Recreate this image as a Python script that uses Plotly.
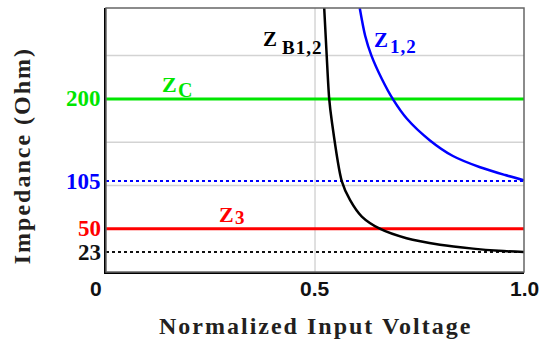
import plotly.graph_objects as go

# Data
zb_x = [0.522, 0.528, 0.534, 0.540, 0.564, 0.584, 0.612, 0.655, 0.719, 0.799, 0.878, 0.94, 1.0]
zb_y = [305, 250, 200, 175, 105, 83, 64, 50, 39, 31.5, 27, 24.5, 23]
z12_x = [0.607, 0.62, 0.635, 0.66, 0.686, 0.72, 0.775, 0.83, 0.895, 0.955, 1.0]
z12_y = [305, 273, 250, 223, 200, 177, 152, 134, 121, 112, 106]
zc_value = 200
z3_value = 50
z12_min = 105
zb_min = 23
ytick_vals = [23, 50, 105, 200]
ytick_text = ["23", "50", "105", "200"]
ytick_colors = ["#111111", "#ff0000", "#0000ff", "#00e600"]
grid_vals = [100, 150, 250]
xtick_vals = [0.5, 1.0]
xtick_text = ["0.5", "1.0"]

SERIF = "Liberation Serif"
SANS = "Liberation Sans"
GREEN = "#00e600"
BLUE = "#0000ff"
RED = "#ff0000"

fig = go.Figure()

fig.add_trace(go.Scatter(x=[0, 1], y=[zb_min, zb_min], mode="lines",
                         line=dict(color="#111111", width=2, dash="dot"), hoverinfo="skip"))
fig.add_trace(go.Scatter(x=[0, 1], y=[z12_min, z12_min], mode="lines",
                         line=dict(color=BLUE, width=2, dash="dot"), hoverinfo="skip"))
fig.add_trace(go.Scatter(x=[0, 1], y=[z3_value, z3_value], mode="lines",
                         line=dict(color=RED, width=3), hoverinfo="skip"))
fig.add_trace(go.Scatter(x=[0, 1], y=[zc_value, zc_value], mode="lines",
                         line=dict(color=GREEN, width=3), hoverinfo="skip"))
fig.add_trace(go.Scatter(x=z12_x, y=z12_y, mode="lines", line_shape="spline",
                         line=dict(color=BLUE, width=2.5, smoothing=0.8), hoverinfo="skip"))
fig.add_trace(go.Scatter(x=zb_x, y=zb_y, mode="lines", line_shape="spline",
                         line=dict(color="#000000", width=2.5, smoothing=0.8), hoverinfo="skip"))

shapes = []
for g in grid_vals:
    shapes.append(dict(type="line", xref="x", yref="y", x0=0, x1=1, y0=g, y1=g,
                       line=dict(color="#d3d3d3", width=1.5), layer="below"))
shapes.append(dict(type="line", xref="x", yref="paper", x0=0.5, x1=0.5, y0=0, y1=1,
                   line=dict(color="#c0c0c0", width=1), layer="below"))
shapes.append(dict(type="rect", xref="paper", yref="paper", x0=0, x1=1, y0=0, y1=1,
                   line=dict(color="#666666", width=1.5)))

annotations = []
for v, t, c in zip(ytick_vals, ytick_text, ytick_colors):
    annotations.append(dict(x=0, xref="paper", y=v, yref="y", text="<b>" + t + "</b>",
                            showarrow=False, xanchor="right", xshift=-3, yanchor="middle",
                            font=dict(family=SERIF, size=23, color=c)))
annotations.append(dict(x=0, xref="paper", y=0, yref="paper", text="<b>0</b>", showarrow=False,
                        xanchor="center", xshift=-10, yanchor="top", yshift=-3,
                        font=dict(family=SANS, size=21, color="#111111")))
for v, t in zip(xtick_vals, xtick_text):
    annotations.append(dict(x=v, xref="x", y=0, yref="paper", text="<b>" + t + "</b>",
                            showarrow=False, xanchor="center", yanchor="top", yshift=-3,
                            font=dict(family=SANS, size=21, color="#111111")))

# curve labels: (main text, sub text, x, y, x_sub, y_sub, size, size_sub, color)
labels = [
    ("Z", "C", 0.152, 216.8, 0.189, 209.9, 22, 20, GREEN),
    ("Z", "B1,2", 0.392, 268.7, 0.468, 259.5, 21, 19, "#000000"),
    ("Z", "1,2", 0.658, 268.1, 0.712, 260.0, 21, 19, BLUE),
    ("Z", "3", 0.288, 66.9, 0.321, 62.8, 22, 19, RED),
]
for t, s, xv, yv, xs, ys, fs, fss, c in labels:
    annotations.append(dict(x=xv, xref="x", y=yv, yref="y", text="<b>" + t + "</b>",
                            showarrow=False, xanchor="center", yanchor="middle",
                            font=dict(family=SERIF, size=fs, color=c)))
    annotations.append(dict(x=xs, xref="x", y=ys, yref="y",
                            text="<b><span style='letter-spacing:1px'>" + s + "</span></b>",
                            showarrow=False, xanchor="center", yanchor="middle",
                            font=dict(family=SERIF, size=fss, color=c)))

annotations.append(dict(x=(315 - 106) / 418, xref="paper", y=-0.204, yref="paper",
                        text="<b><span style='letter-spacing:2px'>Normalized Input Voltage</span></b>",
                        showarrow=False, xanchor="center", yanchor="middle",
                        font=dict(family=SERIF, size=24, color="#231f20")))
annotations.append(dict(x=-0.201, xref="paper", y=0.442, yref="paper",
                        text="<b><span style='letter-spacing:2px'>Impedance (Ohm)</span></b>",
                        showarrow=False, textangle=-90,
                        xanchor="center", yanchor="middle",
                        font=dict(family=SERIF, size=24, color="#231f20")))

fig.update_layout(
    width=539, height=345,
    margin=dict(l=106, r=15, t=8, b=73),
    paper_bgcolor="white", plot_bgcolor="white",
    showlegend=False,
    shapes=shapes,
    annotations=annotations,
    xaxis=dict(range=[0, 1], showgrid=False, zeroline=False, automargin=False,
               showticklabels=False, ticks="",
               showline=True, linecolor="#000000", linewidth=1.5),
    yaxis=dict(range=[0, 305], showgrid=False, zeroline=False, automargin=False,
               showticklabels=False, ticks="",
               showline=True, linecolor="#000000", linewidth=1.5),
)

fig.write_html("out.html")
